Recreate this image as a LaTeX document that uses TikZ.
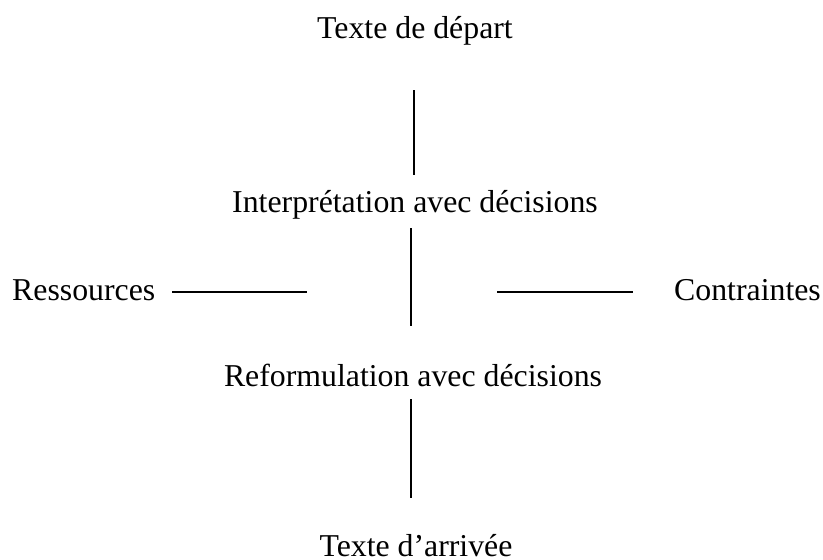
\documentclass[tikz,border=0pt]{standalone}
\usepackage{fontspec}
\setmainfont{Liberation Serif}
\begin{document}
\begin{tikzpicture}[x=1pt,y=-1pt,
  lbl/.style={inner sep=0pt, anchor=base, font=\fontsize{31.8}{36}\selectfont},
  lbll/.style={lbl, anchor=base west},
  conn/.style={line width=1.6pt}]
\useasboundingbox (0,0) rectangle (823,560);
\node[lbl] (dep) at (415,38) {Texte de départ};
\node[lbl] (int) at (415,212) {Interprétation avec décisions};
\node[lbl] (ref) at (413,386) {Reformulation avec décisions};
\node[lbl] (arr) at (416,556) {Texte d’arrivée};
\node[lbll] (res) at (12,300) {Ressources};
\node[lbll] (con) at (674,300) {Contraintes};
\coordinate (v1a) at (414,90);  \coordinate (v1b) at (414,175);
\coordinate (v2a) at (411,228); \coordinate (v2b) at (411,326);
\coordinate (v3a) at (411,399); \coordinate (v3b) at (411,498);
\coordinate (ha) at (172,292);  \coordinate (hb) at (307,292);
\coordinate (ca) at (497,292);  \coordinate (cb) at (633,292);
\draw[conn] (v1a) -- (v1b);
\draw[conn] (v2a) -- (v2b);
\draw[conn] (v3a) -- (v3b);
\draw[conn] (ha) -- (hb);
\draw[conn] (ca) -- (cb);
\end{tikzpicture}
\end{document}
